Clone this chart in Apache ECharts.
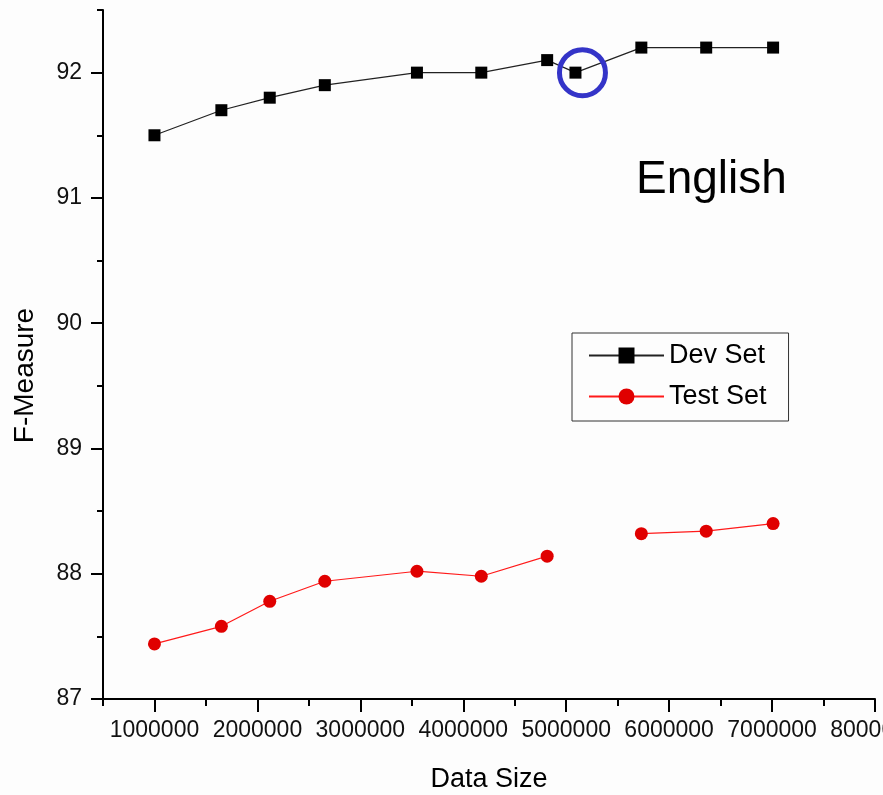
<!DOCTYPE html>
<html>
<head>
<meta charset="utf-8">
<script src="https://cdn.jsdelivr.net/npm/echarts@6/dist/echarts.min.js"></script>
<style>
html,body{margin:0;padding:0;background:#fdfdfd;}
#chart{width:883px;height:795px;}
</style>
</head>
<body>
<div id="chart"></div>
<script>
// Data
var dataSize = [1000000, 1650000, 2120000, 2655000, 3550000, 4175000, 4815000, 5090000, 5730000, 6360000, 7010000];
var devSet   = [91.5, 91.7, 91.8, 91.9, 92.0, 92.0, 92.1, 92.0, 92.2, 92.2, 92.2];
var testSet  = [87.44, 87.58, 87.78, 87.94, 88.02, 87.98, 88.14, null, 88.32, 88.34, 88.40];
var xMajorTicks = [1000000, 2000000, 3000000, 4000000, 5000000, 6000000, 7000000, 8000000];
var xMinorTicks = [500000, 1500000, 2500000, 3500000, 4500000, 5500000, 6500000, 7500000];
var yMajorTicks = [87, 88, 89, 90, 91, 92];
var yMinorTicks = [87.5, 88.5, 89.5, 90.5, 91.5, 92.5];
var highlightIndex = 7; // circled Dev Set point
var langLabel = 'English';

var font = 'Liberation Sans, Arial, sans-serif';
var devData = dataSize.map(function(x, i){ return [x, devSet[i]]; });
var testData = dataSize.map(function(x, i){ return [x, testSet[i]]; });

var chart = echarts.init(document.getElementById('chart'), null, {renderer: 'canvas'});
var axisLineStyle = {color: '#000', width: 2};
chart.setOption({
  backgroundColor: '#fdfdfd',
  animation: false,
  grid: {left: 103, right: 8, top: 10, bottom: 96, containLabel: false, outerBoundsMode: 'none'},
  graphic: [{
    type: 'text', left: 636, top: 157,
    style: {text: langLabel, font: '46px ' + font, fill: '#000'}
  }],
  legend: {
    orient: 'vertical',
    left: 572, top: 333,
    padding: [9, 22, 11, 16],
    itemWidth: 75, itemHeight: 20,
    itemGap: 14,
    borderColor: '#333', borderWidth: 1,
    textStyle: {fontFamily: font, fontSize: 27, color: '#000', lineHeight: 27},
    data: ['Dev Set', 'Test Set']
  },
  xAxis: [{
    type: 'value', min: 500000, max: 8000000,
    position: 'bottom',
    name: 'Data Size', nameLocation: 'middle', nameGap: 67,
    nameTextStyle: {fontFamily: font, fontSize: 27, color: '#000'},
    axisLine: {show: true, onZero: false, lineStyle: axisLineStyle},
    axisTick: {show: true, inside: false, length: 13, customValues: xMajorTicks, lineStyle: {color: '#000', width: 2}},
    axisLabel: {show: true, customValues: xMajorTicks, margin: 20, fontFamily: font, fontSize: 23, color: '#111',
      formatter: function(v){ return String(v); }},
    splitLine: {show: false}
  }, {
    type: 'value', min: 500000, max: 8000000,
    position: 'bottom',
    axisLine: {show: false, onZero: false},
    axisTick: {show: true, inside: false, length: 7, customValues: xMinorTicks, lineStyle: {color: '#000', width: 2}},
    axisLabel: {show: false},
    splitLine: {show: false}
  }],
  yAxis: [{
    type: 'value', min: 87, max: 92.5,
    position: 'left',
    name: 'F-Measure', nameLocation: 'middle', nameGap: 64,
    nameTextStyle: {fontFamily: font, fontSize: 28, color: '#000', padding: [0, 42, 0, 0]},
    axisLine: {show: true, onZero: false, lineStyle: axisLineStyle},
    axisTick: {show: true, inside: false, length: 12, customValues: yMajorTicks, lineStyle: {color: '#000', width: 2}},
    axisLabel: {show: true, customValues: yMajorTicks, margin: 21, fontFamily: font, fontSize: 23, color: '#111'},
    splitLine: {show: false}
  }, {
    type: 'value', min: 87, max: 92.5,
    position: 'left',
    axisLine: {show: false, onZero: false},
    axisTick: {show: true, inside: false, length: 6, customValues: yMinorTicks, lineStyle: {color: '#000', width: 2}},
    axisLabel: {show: false},
    splitLine: {show: false}
  }],
  series: [{
    name: 'Dev Set', type: 'line',
    xAxisIndex: 0, yAxisIndex: 0,
    data: devData,
    symbol: 'rect', symbolSize: 12,
    itemStyle: {color: '#000'},
    lineStyle: {color: '#222', width: 1.2},
    markPoint: {
      symbol: 'circle', symbolSize: 46, symbolOffset: [7, 0],
      silent: true,
      itemStyle: {color: 'rgba(0,0,0,0)', borderColor: '#3434c8', borderWidth: 5},
      label: {show: false},
      data: [{coord: devData[highlightIndex]}]
    }
  }, {
    name: 'Test Set', type: 'line',
    xAxisIndex: 0, yAxisIndex: 0,
    data: testData,
    connectNulls: false,
    symbol: 'circle', symbolSize: 13,
    itemStyle: {color: '#e00000'},
    lineStyle: {color: '#ff1a1a', width: 1.2}
  }]
});
</script>
</body>
</html>
